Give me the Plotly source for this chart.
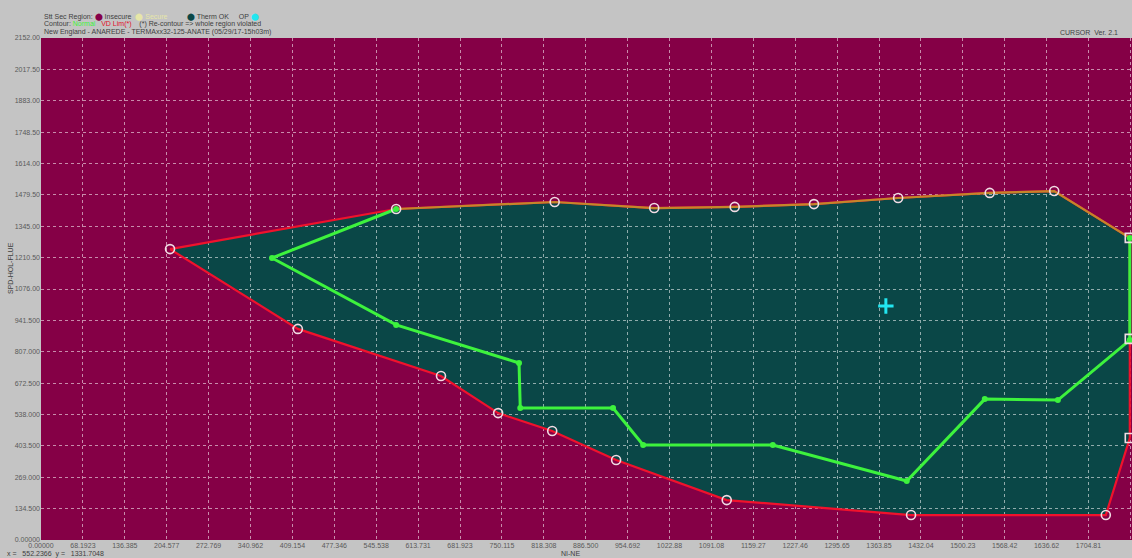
import plotly.graph_objects as go

# ---- data ----
x_tick_labels = ["0.00000", "68.1923", "136.385", "204.577", "272.769", "340.962", "409.154",
                 "477.346", "545.538", "613.731", "681.923", "750.115", "818.308", "886.500",
                 "954.692", "1022.88", "1091.08", "1159.27", "1227.46", "1295.65", "1363.85",
                 "1432.04", "1500.23", "1568.42", "1636.62", "1704.81", "1773.00"]
y_tick_labels = ["0.00000", "134.500", "269.000", "403.500", "538.000", "672.500", "807.000",
                 "941.500", "1076.00", "1210.50", "1345.00", "1479.50", "1614.00", "1748.50",
                 "1883.00", "2017.50", "2152.00"]

# secure region boundary (circle markers)
bound_x = [210, 578, 836, 998, 1129, 1258, 1395, 1544, 1649, 1772, 1772, 1772, 1733, 1416,
           1116, 936, 832, 744, 651, 418, 210]
bound_y = [1247, 1419, 1449, 1423, 1428, 1440, 1466, 1488, 1496, 1295, 862, 437, 107, 107,
           171, 343, 467, 544, 703, 905, 1247]
# top edge shared with contour (olive)
top_x = [578, 836, 998, 1129, 1258, 1395, 1544, 1649, 1772]
top_y = [1419, 1449, 1423, 1428, 1440, 1466, 1488, 1496, 1295]
# square-marked points on right edge
sq_x = [1772, 1772, 1772]
sq_y = [1295, 862, 437]
# thermal contour (green)
therm_x = [578, 376, 578, 778, 780, 931, 980, 1191, 1409, 1536, 1655, 1772, 1772]
therm_y = [1419, 1209, 922, 759, 566, 566, 407, 407, 253, 604, 600, 857, 1295]
# operating point
op_x = [1375]
op_y = [1003]

x_vals = [float(s) for s in x_tick_labels]
y_vals = [float(s) for s in y_tick_labels]

CRIMSON = "#850046"
TEAL = "#0a4747"
RED = "#f0122c"
GREEN = "#3df23d"

fig = go.Figure()

# fill region as a shape below the grid
path = "M " + " L ".join(f"{x},{y}" for x, y in zip(bound_x, bound_y)) + " Z"
fig.add_shape(type="path", path=path, xref="x", yref="y", fillcolor=TEAL,
              line=dict(width=0), layer="below")

fig.add_trace(go.Scatter(x=bound_x, y=bound_y, mode="lines",
                         line=dict(color=RED, width=2.2), hoverinfo="skip"))
fig.add_trace(go.Scatter(x=top_x, y=top_y, mode="lines",
                         line=dict(color="#c4862a", width=2.2), hoverinfo="skip"))
fig.add_trace(go.Scatter(x=therm_x, y=therm_y, mode="lines+markers",
                         line=dict(color=GREEN, width=3),
                         marker=dict(color=GREEN, size=6), hoverinfo="skip"))
fig.add_trace(go.Scatter(x=bound_x[:9] + bound_x[12:20], y=bound_y[:9] + bound_y[12:20],
                         mode="markers",
                         marker=dict(symbol="circle-open", size=9, color="#f2dce4",
                                     line=dict(width=1.6)), hoverinfo="skip"))
fig.add_trace(go.Scatter(x=sq_x, y=sq_y, mode="markers",
                         marker=dict(symbol="square-open", size=9, color="#f2dce4",
                                     line=dict(width=1.6)), hoverinfo="skip"))
fig.add_trace(go.Scatter(x=op_x, y=op_y, mode="markers",
                         marker=dict(symbol="cross-thin", size=11, color="#22e6f0",
                                     line=dict(width=3, color="#22e6f0")), hoverinfo="skip"))

grid = dict(showgrid=True, gridcolor="rgba(255,255,255,0.55)", griddash="dot", gridwidth=1,
            zeroline=False, ticks="", showline=False, automargin=False,
            tickfont=dict(family="Liberation Sans, Arial", size=7, color="#5a5a5a"))

fig.update_xaxes(range=[0, 1775.6], tickmode="array", tickvals=x_vals, ticktext=x_tick_labels,
                 **grid)
fig.update_yaxes(range=[0, 2152], tickmode="array", tickvals=y_vals, ticktext=y_tick_labels,
                 **grid)

F = dict(family="Liberation Sans, Arial", size=7, color="#404040")

W, H = 1132, 558
PL, PT, PR, PB = 41, 38, 1132, 540


def px_x(p):
    return (p - PL) / (PR - PL)


def px_y(p):
    return (PB - p) / (PB - PT)


ann = [
    (42, 17, "Stt Sec Region: <span style='color:#85004a'>⬤</span> Insecure  "
             "<span style='color:#e6e6a8'>⬤ Secure</span>          "
             "<span style='color:#0a4747'>⬤</span> Therm OK     OP <span style='color:#22e6f0'>⬤</span>"),
    (42, 24, "Contour: <span style='color:#3df23d'>Normal</span>   "
             "<span style='color:#e0102a'>VD Lim(*)</span>    (*) Re-contour => whole region violated"),
    (42, 32, "New England - ANAREDE - TERMAxx32-125-ANATE (05/29/17-15h03m)"),
    (1058, 32, "CURSOR  Ver. 2.1"),
    (5, 554, "x =   552.2366  y =   1331.7048"),
]
for px, py, t in ann:
    fig.add_annotation(x=px_x(px), y=px_y(py), xref="paper", yref="paper", text=t,
                       showarrow=False, xanchor="left", yanchor="middle", font=F)

fig.add_annotation(x=px_x(570), y=px_y(553), xref="paper", yref="paper", text="NI-NE",
                   showarrow=False, xanchor="center", yanchor="middle", font=F)
fig.add_annotation(x=px_x(10), y=px_y(268), xref="paper", yref="paper", text="SPD-HOL-FLUE",
                   showarrow=False, textangle=-90, xanchor="center", yanchor="middle", font=F)

fig.update_layout(width=W, height=H,
                  margin=dict(l=PL, r=W - PR, t=PT, b=H - PB),
                  paper_bgcolor="#c4c4c4", plot_bgcolor=CRIMSON, showlegend=False)

fig.write_html("out.html", config={"displayModeBar": False},
               post_script="document.body.style.margin='0px';document.body.style.overflow='hidden';")
